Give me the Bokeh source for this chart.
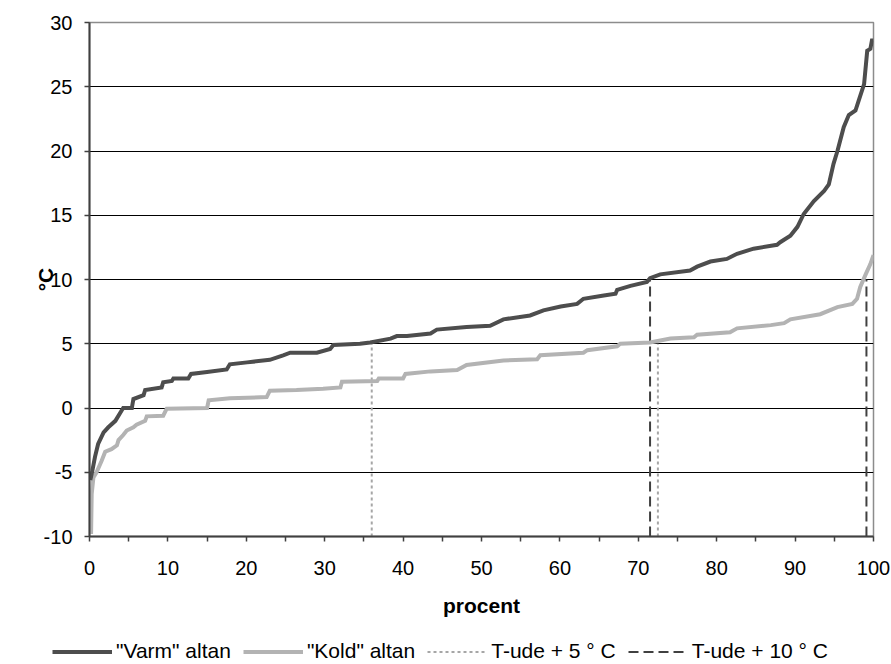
from bokeh.plotting import figure
from bokeh.layouts import column
from bokeh.models import FixedTicker, Legend, LegendItem, Range1d
from bokeh.embed import file_html
from bokeh.resources import INLINE

# ---- data ----
varm_pct = [0.1, 0.36, 0.7, 1.1, 1.8, 2.4, 3.3, 4.1, 4.3, 5.4, 5.6, 6.9, 7.1, 9.2, 9.4, 10.5, 10.7, 12.6,
            12.95, 15.0, 17.5, 17.9, 20.1, 23.0, 24.7, 25.6, 29.0, 30.7, 31.1, 34.5, 35.8, 38.4, 39.2,
            40.5, 43.5, 44.3, 48.1, 51.1, 52.8, 56.2, 57.9, 60.1, 62.2, 63.0, 65.6, 67.1, 67.3, 69.0,
            71.1, 71.5, 72.8, 76.6, 77.5, 79.2, 81.3, 82.6, 84.7, 87.7, 88.1, 89.4, 90.3, 91.1, 92.4,
            93.7, 94.3, 94.9, 95.4, 96.2, 96.85, 97.7, 98.1, 98.8, 99.2, 99.6, 99.8, 100.0]
varm_temp = [-5.6, -4.9, -3.8, -2.8, -1.9, -1.5, -1.0, -0.2, 0.0, 0.0, 0.7, 1.0, 1.4, 1.6, 2.0, 2.1, 2.3, 2.3,
             2.65, 2.8, 3.0, 3.4, 3.55, 3.75, 4.1, 4.3, 4.3, 4.6, 4.9, 5.0, 5.1, 5.4, 5.6,
             5.6, 5.8, 6.1, 6.3, 6.4, 6.9, 7.2, 7.6, 7.9, 8.1, 8.5, 8.75, 8.9, 9.2, 9.5,
             9.8, 10.1, 10.4, 10.7, 11.0, 11.4, 11.6, 12.0, 12.4, 12.7, 12.9, 13.4, 14.1, 15.1, 16.1,
             16.9, 17.4, 19.0, 20.0, 21.85, 22.8, 23.15, 23.9, 25.2, 27.8, 27.95, 28.6, 28.6]

kold_pct = [0.2, 0.28, 0.5, 0.9, 1.55, 2.0, 2.8, 3.5, 3.7, 4.3, 4.75, 5.6, 6.0, 7.1, 7.3, 9.4, 9.85, 15.0,
            15.2, 17.9, 22.6, 23.0, 26.4, 29.8, 32.0, 32.2, 36.7, 36.9, 40.0, 40.3, 43.5, 46.9, 48.1,
            52.8, 57.1, 57.5, 63.0, 63.5, 67.3, 67.7, 71.5, 74.1, 77.1, 77.5, 81.7, 82.6, 86.9, 88.6,
            89.4, 93.2, 95.4, 97.3, 97.9, 98.3, 99.0, 99.6, 100.0]
kold_temp = [-9.8, -6.7, -5.4, -5.0, -4.1, -3.4, -3.2, -2.9, -2.5, -2.1, -1.75, -1.5, -1.3, -1.0, -0.65, -0.6, -0.05, 0.0,
             0.6, 0.75, 0.85, 1.35, 1.4, 1.5, 1.6, 2.05, 2.1, 2.3, 2.3, 2.65, 2.85, 2.95, 3.35,
             3.7, 3.8, 4.1, 4.3, 4.5, 4.8, 5.0, 5.1, 5.4, 5.5, 5.7, 5.9, 6.2, 6.45, 6.6,
             6.9, 7.3, 7.85, 8.1, 8.5, 9.4, 10.4, 11.2, 11.9]

plus5_pct = [36.0, 72.5]     # T-ude + 5 °C
plus5_top = [5.0, 5.0]
plus10_pct = [71.5, 99.1]    # T-ude + 10 °C
plus10_top = [10.0, 10.0]

series_labels = ['"Varm" altan', '"Kold" altan', "T-ude + 5 ° C", "T-ude + 10 ° C"]

x_ticks = [0, 10, 20, 30, 40, 50, 60, 70, 80, 90, 100]
x_minor = [5, 15, 25, 35, 45, 55, 65, 75, 85, 95]
y_ticks = [-10, -5, 0, 5, 10, 15, 20, 25, 30]
y_tick_labels = ["-10", "-5", "0", "5", "10", "15", "20", "25", "30"]

FONT = "Liberation Sans"
AXC = "#404040"
VARM_C, KOLD_C = "#4d4d4d", "#b3b3b3"
DOT_C, DASH_C = "#a6a6a6", "#404040"

p = figure(width=891, height=632, output_backend="svg", toolbar_location=None,
           x_range=Range1d(0, 100), y_range=Range1d(-10, 30),
           min_border_left=89, min_border_right=18, min_border_top=22, min_border_bottom=96)
p.background_fill_color = "white"
p.border_fill_color = "white"
p.outline_line_color = "#8c8c8c"
p.outline_line_width = 1.5

p.xgrid.visible = False
p.ygrid.ticker = FixedTicker(ticks=y_ticks)
p.ygrid.grid_line_color = "black"
p.ygrid.grid_line_width = 1

# axes
p.xaxis.ticker = FixedTicker(ticks=x_ticks, minor_ticks=x_minor)
p.yaxis.ticker = FixedTicker(ticks=y_ticks)
p.yaxis.major_label_overrides = dict(zip(y_ticks, y_tick_labels))
for ax in (p.xaxis[0], p.yaxis[0]):
    ax.axis_line_color = AXC
    ax.axis_line_width = 2
    ax.major_tick_line_color = AXC
    ax.major_tick_line_width = 1.5
    ax.minor_tick_line_color = AXC
    ax.minor_tick_line_width = 1.5
    ax.major_tick_in = 0
    ax.major_tick_out = 5
    ax.minor_tick_in = 0
    ax.minor_tick_out = 5
    ax.major_label_text_font = FONT
    ax.major_label_text_font_size = "20px"
    ax.major_label_text_color = "black"
    ax.axis_label_text_font = FONT
    ax.axis_label_text_font_size = "21px"
    ax.axis_label_text_font_style = "bold"
    ax.axis_label_text_color = "black"
p.yaxis.minor_tick_out = 0
p.xaxis.axis_label = "procent"
p.yaxis.axis_label = "°C"
p.xaxis.major_label_standoff = 19
p.yaxis.major_label_standoff = 12
p.xaxis.axis_label_standoff = 16
p.yaxis.axis_label_standoff = -16

# vertical marker lines
p.segment(x0=plus5_pct, y0=[-10] * len(plus5_pct), x1=plus5_pct, y1=plus5_top,
          line_color=DOT_C, line_width=2, line_dash="3 3")
p.segment(x0=plus10_pct, y0=[-10] * len(plus10_pct), x1=plus10_pct, y1=plus10_top,
          line_color=DASH_C, line_width=2, line_dash="10 5")

# curves
p.line(kold_pct, kold_temp, line_color=KOLD_C, line_width=4, line_join="miter")
p.line(varm_pct, varm_temp, line_color=VARM_C, line_width=4, line_join="miter")

# ---- legend strip below the chart (proxy lines lie outside its visible range) ----
lg = figure(width=891, height=32, output_backend="svg", toolbar_location=None,
            x_range=Range1d(0, 1), y_range=Range1d(0, 1), x_axis_type=None, y_axis_type=None,
            min_border_left=0, min_border_right=0, min_border_top=0, min_border_bottom=0)
lg.outline_line_color = None
lg.xgrid.visible = False
lg.ygrid.visible = False
proxy_x = [5, 6]
proxy_y = [5, 6]
lv = lg.line(proxy_x, proxy_y, line_color=VARM_C, line_width=4)
lk = lg.line(proxy_x, proxy_y, line_color=KOLD_C, line_width=4)
l5 = lg.line(proxy_x, proxy_y, line_color=DOT_C, line_width=2, line_dash="3 3")
l10 = lg.line(proxy_x, proxy_y, line_color=DASH_C, line_width=2, line_dash="10 5")

legend = Legend(items=[LegendItem(label=series_labels[0], renderers=[lv]),
                       LegendItem(label=series_labels[1], renderers=[lk]),
                       LegendItem(label=series_labels[2], renderers=[l5]),
                       LegendItem(label=series_labels[3], renderers=[l10])],
                orientation="horizontal", location=(52, 1),
                glyph_width=60, glyph_height=21, label_height=21, label_standoff=4, spacing=12,
                padding=0, margin=0, border_line_color=None, background_fill_alpha=0,
                label_text_font=FONT, label_text_font_size="21px", label_text_color="black")
lg.add_layout(legend, "center")

layout = column(p, column(lg, spacing=0), spacing=0)
open("out.html", "w").write(file_html(layout, INLINE))
